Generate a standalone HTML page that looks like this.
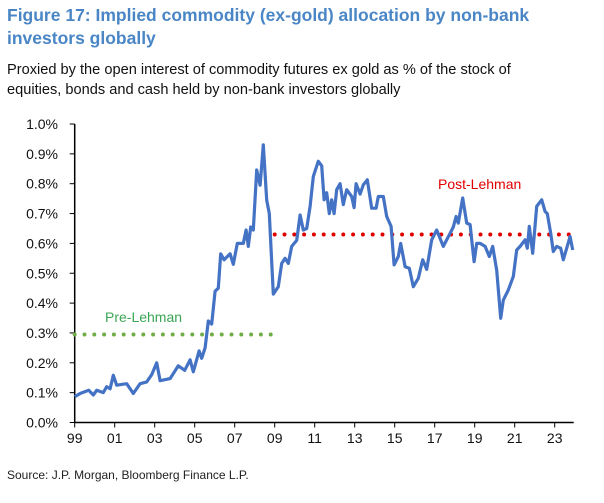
<!DOCTYPE html>
<html><head><meta charset="utf-8"><style>
body{margin:0;width:604px;height:503px;background:#fff;font-family:"Liberation Sans",Arial,sans-serif;overflow:hidden;position:relative}
.t{position:absolute;left:7px;top:4px;color:#4a86c5;font-weight:bold;font-size:17.5px;line-height:23px;width:595px}
.s{position:absolute;left:7px;top:60px;color:#111;font-size:14.6px;line-height:20px;width:555px}
.src{position:absolute;left:7px;top:468px;color:#222;font-size:12px}
svg{position:absolute;left:0;top:0}
</style></head><body>
<div class="t">Figure 17: Implied commodity (ex-gold) allocation by non-bank investors globally</div>
<div class="s">Proxied by the open interest of commodity futures ex gold as % of the stock of equities, bonds and cash held by non-bank investors globally</div>
<div class="src">Source: J.P. Morgan, Bloomberg Finance L.P.</div>
<svg id="c" width="604" height="503"></svg>
<script>
const years=[1999,1999.27,1999.7,1999.93,2000.1,2000.43,2000.6,2000.77,2000.93,2001.1,2001.6,2001.93,2002.27,2002.6,2002.85,2003.1,2003.27,2003.77,2004.18,2004.5,2004.77,2004.93,2005.22,2005.35,2005.52,2005.68,2005.85,2006.02,2006.18,2006.3,2006.47,2006.77,2006.93,2007.13,2007.43,2007.57,2007.68,2007.8,2007.93,2008.1,2008.27,2008.43,2008.6,2008.73,2008.93,2009.18,2009.35,2009.52,2009.68,2009.85,2010.1,2010.27,2010.43,2010.6,2010.77,2010.93,2011.18,2011.35,2011.47,2011.6,2011.73,2011.85,2011.97,2012.1,2012.27,2012.43,2012.6,2012.85,2012.97,2013.07,2013.27,2013.43,2013.63,2013.85,2014.07,2014.18,2014.43,2014.6,2014.82,2014.97,2015.18,2015.3,2015.52,2015.73,2015.93,2016.18,2016.4,2016.6,2016.85,2017.1,2017.43,2017.77,2017.93,2018.07,2018.18,2018.4,2018.6,2018.77,2018.85,2018.97,2019.1,2019.27,2019.52,2019.73,2019.9,2020.1,2020.3,2020.43,2020.68,2020.93,2021.1,2021.27,2021.52,2021.63,2021.73,2021.9,2022.1,2022.35,2022.52,2022.63,2022.8,2022.93,2023.1,2023.3,2023.43,2023.6,2023.77,2023.9];
const values=[0.086,0.097,0.108,0.092,0.108,0.10,0.12,0.113,0.158,0.125,0.13,0.097,0.13,0.136,0.16,0.2,0.14,0.147,0.19,0.175,0.21,0.17,0.24,0.215,0.25,0.34,0.33,0.44,0.45,0.565,0.545,0.565,0.53,0.6,0.6,0.645,0.59,0.655,0.645,0.846,0.795,0.93,0.745,0.70,0.43,0.455,0.533,0.55,0.533,0.59,0.61,0.695,0.645,0.65,0.724,0.824,0.875,0.86,0.746,0.77,0.70,0.746,0.70,0.78,0.80,0.73,0.78,0.757,0.72,0.80,0.765,0.796,0.813,0.718,0.718,0.757,0.757,0.69,0.657,0.528,0.556,0.60,0.522,0.517,0.455,0.483,0.545,0.513,0.612,0.645,0.59,0.634,0.655,0.69,0.668,0.752,0.668,0.663,0.612,0.539,0.60,0.60,0.59,0.556,0.59,0.51,0.349,0.41,0.444,0.489,0.578,0.59,0.612,0.584,0.657,0.567,0.724,0.746,0.707,0.70,0.634,0.573,0.59,0.584,0.545,0.584,0.623,0.578];
const yTicks=[0,0.1,0.2,0.3,0.4,0.5,0.6,0.7,0.8,0.9,1.0];
const xTickLabels=["99","01","03","05","07","09","11","13","15","17","19","21","23"];
const xTickYears=[1999,2001,2003,2005,2007,2009,2011,2013,2015,2017,2019,2021,2023];
const preLehman=[1999,2008.93,0.295];
const postLehman=[2009,2023.9,0.63];
const X=y=>74.7+(y-1999)*20;
const Y=v=>422.5-v*298.5;
const svg=document.getElementById('c');
const NS='http://www.w3.org/2000/svg';
function mk(tag,attrs,parent){const e=document.createElementNS(NS,tag);for(const k in attrs)e.setAttribute(k,attrs[k]);(parent||svg).appendChild(e);return e;}
let ax=mk('line',{x1:X(1999),y1:Y(0),x2:X(1999),y2:Y(1),stroke:'#000','stroke-width':1.5});


let bx=mk('line',{x1:X(1999),y1:Y(0),x2:X(2023.95),y2:Y(0),stroke:'#000','stroke-width':1.5});


yTicks.forEach(v=>{
 mk('line',{x1:X(1999)-5,y1:Y(v),x2:X(1999),y2:Y(v),stroke:'#000','stroke-width':1});
 const t=mk('text',{x:58,y:Y(v)+5,'text-anchor':'end','font-size':14,fill:'#111'});
 t.textContent=v.toFixed(1)+'%';
 
 
});
xTickYears.forEach((yr,i)=>{
 mk('line',{x1:X(yr),y1:Y(0),x2:X(yr),y2:Y(0)+5,stroke:'#000','stroke-width':1});
 const t=mk('text',{x:X(yr),y:443,'text-anchor':'middle','font-size':14,fill:'#111'});
 t.textContent=xTickLabels[i];
 
 
});
let pre=mk('line',{x1:X(preLehman[0]),y1:Y(preLehman[2]),x2:X(preLehman[1]),y2:Y(preLehman[2]),stroke:'#70ad47','stroke-width':4,'stroke-linecap':'round','stroke-dasharray':'0 9.8'});


let post=mk('line',{x1:X(postLehman[0]),y1:Y(postLehman[2]),x2:X(postLehman[1]),y2:Y(postLehman[2]),stroke:'#e00000','stroke-width':4,'stroke-linecap':'round','stroke-dasharray':'0 9.8'});


let d=years.map((y,i)=>(i?'L':'M')+X(y).toFixed(1)+','+Y(values[i]).toFixed(1)).join('');
let p=mk('path',{d:d,fill:'none',stroke:'#4472c4','stroke-width':3.2,'stroke-linejoin':'round'});


let l1=mk('text',{x:105,y:322,'font-size':14,fill:'#3aa655'});l1.textContent='Pre-Lehman';


let l2=mk('text',{x:438,y:189,'font-size':14,fill:'#e00000'});l2.textContent='Post-Lehman';


</script>
</body></html>
